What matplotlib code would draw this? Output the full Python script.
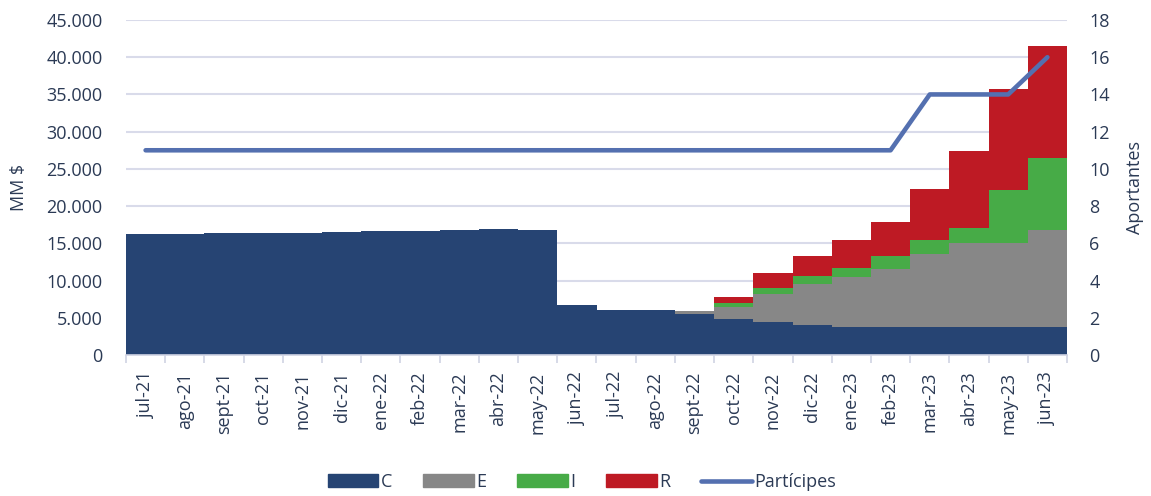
import matplotlib
matplotlib.use("Agg")
import matplotlib.pyplot as plt
import numpy as np
from matplotlib.patches import Patch
from matplotlib.lines import Line2D

months = ["jul-21", "ago-21", "sept-21", "oct-21", "nov-21", "dic-21", "ene-22", "feb-22",
          "mar-22", "abr-22", "may-22", "jun-22", "jul-22", "ago-22", "sept-22", "oct-22",
          "nov-22", "dic-22", "ene-23", "feb-23", "mar-23", "abr-23", "may-23", "jun-23"]
C = [16300, 16300, 16350, 16400, 16450, 16500, 16600, 16650, 16850, 16950, 16800, 6700,
     6100, 6100, 5450, 4900, 4400, 4050, 3800, 3800, 3750, 3750, 3750, 3750]
E = [0, 0, 0, 0, 0, 0, 0, 0, 0, 0, 0, 0,
     0, 0, 500, 1550, 3750, 5500, 6700, 7700, 9800, 11350, 11350, 13000]
I = [0, 0, 0, 0, 0, 0, 0, 0, 0, 0, 0, 0,
     0, 0, 0, 580, 900, 1050, 1250, 1800, 1850, 2000, 7000, 9650]
R = [0, 0, 0, 0, 0, 0, 0, 0, 0, 0, 0, 0,
     0, 0, 0, 750, 2000, 2700, 3650, 4500, 6900, 10250, 13600, 15100]
participes = [11, 11, 11, 11, 11, 11, 11, 11, 11, 11, 11, 11,
              11, 11, 11, 11, 11, 11, 11, 11, 14, 14, 14, 16]
yticks = [0, 5000, 10000, 15000, 20000, 25000, 30000, 35000, 40000, 45000]
ytick_labels = ["0", "5.000", "10.000", "15.000", "20.000", "25.000", "30.000", "35.000", "40.000", "45.000"]

plt.rcParams['font.family'] = ['Open Sans', 'DejaVu Sans']
txt = "#2b3a55"
fs = 13
col_C, col_E, col_I, col_R, col_L = "#264473", "#878787", "#47ab47", "#be1a24", "#5470b0"

fig = plt.figure(figsize=(11.51, 4.96), dpi=100)
ax = fig.add_axes([126/1151, 1-355/496, (1067-126)/1151, (355-20)/496])
x = np.arange(len(months))
Ca, Ea, Ia, Ra = map(np.array, (C, E, I, R))
ax.bar(x, Ca, width=1.0, color=col_C, linewidth=0, zorder=2)
ax.bar(x, Ea, width=1.0, bottom=Ca, color=col_E, linewidth=0, zorder=2)
ax.bar(x, Ia, width=1.0, bottom=Ca+Ea, color=col_I, linewidth=0, zorder=2)
ax.bar(x, Ra, width=1.0, bottom=Ca+Ea+Ia, color=col_R, linewidth=0, zorder=2)
ax.set_xlim(-0.5, len(months)-0.5)
ax.set_ylim(0, 45000)
ax.set_yticks(yticks)
ax.set_yticklabels(ytick_labels)
ax.grid(axis='y', color="#d9dbea", linewidth=1.5, zorder=0)
ax.set_axisbelow(True)
for s in ['top', 'right', 'left']:
    ax.spines[s].set_visible(False)
ax.spines['bottom'].set_color("#d0d3e3")
ax.spines['bottom'].set_linewidth(1.2)
ax.set_xticks(x)
ax.set_xticklabels(months, rotation=90)
ax.set_xticks(np.arange(-0.5, len(months)), minor=True)
ax.tick_params(axis='x', which='major', length=0, pad=12, labelsize=fs, labelcolor=txt)
ax.tick_params(axis='x', which='minor', length=6, color="#d0d3e3", width=1.2)
ax.tick_params(axis='y', length=0, labelsize=fs, labelcolor=txt, pad=17)
ax.set_ylabel("MM $", fontsize=fs, color=txt)
ax.yaxis.set_label_coords((28-126)/941, 0.5)

ax2 = ax.twinx()
ax2.plot(x, participes, color=col_L, linewidth=3.3, solid_capstyle='round', zorder=5)
ax2.set_ylim(0, 18)
ax2.set_yticks(range(0, 19, 2))
for s in ['top', 'right', 'left', 'bottom']:
    ax2.spines[s].set_visible(False)
ax2.tick_params(axis='y', length=0, labelsize=fs, labelcolor=txt, pad=16)
ax2.set_ylabel("Aportantes", fontsize=fs, color=txt)
ax2.yaxis.set_label_coords(1 + (1126-1067)/941, 0.5)

handles = [Patch(color=col_C), Patch(color=col_E), Patch(color=col_I), Patch(color=col_R),
           Line2D([0], [0], color=col_L, linewidth=3.3, solid_capstyle='round')]
fig.legend(handles, ["C", "E", "I", "R", "Partícipes"], loc='center',
           bbox_to_anchor=(582/1151, 1-482/496), ncol=5, frameon=False, fontsize=fs,
           handlelength=2.8, handleheight=0.75, handletextpad=0.15, columnspacing=1.7,
           labelcolor=txt)
fig.savefig("out.png", dpi=100)
